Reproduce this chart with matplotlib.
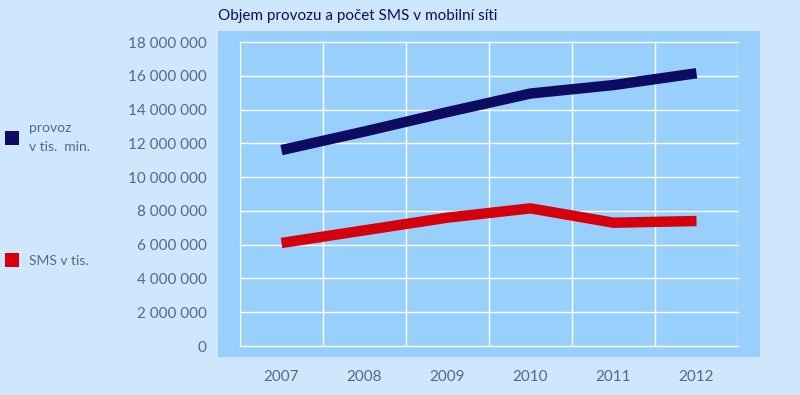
import matplotlib
matplotlib.use("Agg")
import matplotlib.pyplot as plt
from matplotlib.patches import Rectangle
from matplotlib.ticker import FuncFormatter, FixedLocator
import numpy as np

years = ["2007", "2008", "2009", "2010", "2011", "2012"]
provoz = [11.6e6, 12.7e6, 13.85e6, 14.95e6, 15.45e6, 16.15e6]
sms = [6.1e6, 6.85e6, 7.6e6, 8.15e6, 7.3e6, 7.4e6]

BG = "#cfe7fd"
PANEL = "#99cffb"
NAVY = "#0d0c62"
RED = "#d6000d"
TXT = "#5a6585"

plt.rcParams['font.family'] = ['Lato', 'DejaVu Sans']

fig = plt.figure(figsize=(8, 3.95), dpi=100, facecolor=BG)

# darker panel behind the plot area
fig.patches.append(Rectangle((218 / 800, 1 - 357 / 395), (760 - 218) / 800, (357 - 31) / 395,
                             transform=fig.transFigure, facecolor=PANEL, edgecolor="none", zorder=-1))

ax = fig.add_axes([240 / 800, 1 - 346 / 395, (738 - 240) / 800, (346 - 42) / 395])
ax.set_facecolor(PANEL)
for s in ax.spines.values():
    s.set_visible(False)

x = np.arange(len(years))
ax.plot(x, provoz, color=NAVY, lw=7.5, solid_capstyle="butt", zorder=3)
ax.plot(x, sms, color=RED, lw=7.5, solid_capstyle="butt", zorder=3)

ax.set_xlim(-0.5, len(years) - 0.5)
ax.set_ylim(0, 18e6)
ax.set_xticks(x)
ax.set_xticklabels(years)
ax.xaxis.set_minor_locator(FixedLocator(np.arange(-0.5, len(years), 1.0)))
ax.set_yticks(np.arange(0, 18e6 + 1, 2e6))
ax.yaxis.set_major_formatter(FuncFormatter(lambda v, p: f"{int(v):,}".replace(",", " ")))

ax.tick_params(axis="both", which="both", length=0, colors=TXT, labelsize=11)
ax.tick_params(axis="y", pad=24)
ax.tick_params(axis="x", pad=17)
ax.grid(True, axis="y", which="major", color="white", lw=1)
ax.grid(True, axis="x", which="minor", color="white", lw=1)
ax.grid(False, axis="x", which="major")
for gl in ax.get_ygridlines() + ax.xaxis.get_minorticklines():
    gl.set_clip_on(False)
ax.set_axisbelow(True)

fig.text(218 / 800, 1 - 16 / 395, "Objem provozu a počet SMS v mobilní síti",
         color=NAVY, fontsize=11, va="center", ha="left")

# legend drawn at left side
fig.patches.append(Rectangle((5 / 800, 1 - 145 / 395), 14 / 800, 14 / 395,
                             transform=fig.transFigure, facecolor=NAVY, edgecolor="none"))
fig.text(29 / 800, 1 - 128 / 395, "provoz", color=TXT, fontsize=10, va="center")
fig.text(29 / 800, 1 - 147 / 395, "v tis.  min.", color=TXT, fontsize=10, va="center")
fig.patches.append(Rectangle((5 / 800, 1 - 267 / 395), 14 / 800, 14 / 395,
                             transform=fig.transFigure, facecolor=RED, edgecolor="none"))
fig.text(29 / 800, 1 - 261 / 395, "SMS v tis.", color=TXT, fontsize=10, va="center")

fig.savefig("out.png", dpi=100, facecolor=BG)
